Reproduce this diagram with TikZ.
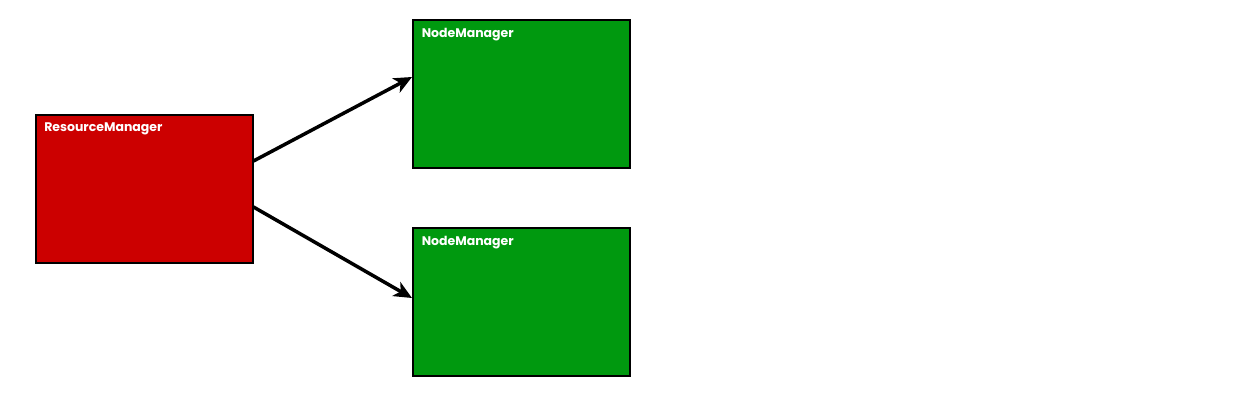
\documentclass[tikz,border=0pt]{standalone}
\usepackage{fontspec}
\setmainfont{Poppins}
\usetikzlibrary{arrows.meta}
\definecolor{rmred}{rgb}{0.8,0,0}
\definecolor{nmgreen}{rgb}{0,0.6,0.06}

\begin{document}
\begin{tikzpicture}[
            x = 1pt, y = -1pt,
            > = {Stealth[length=18pt, width=16pt, inset=5pt]}, % arrow head style
            line width = 3.5pt % arrow line style
        ]

        \tikzstyle{box}=[
            draw = black,
            line width = 2pt,
            minimum width = 217pt,
            minimum height = 148pt
        ]
        \tikzstyle{title}=[
            anchor = north west,
            inner sep = 0pt,
            xshift = 8pt, yshift = -7pt,
            text = white,
            font = \fontsize{12.5}{14}\selectfont\bfseries
        ]

        \useasboundingbox (0,0) rectangle (1244,400);

	% master
        \node[box, fill = rmred] (RM) at (144,189) {};
        \node[title] (RMt) at (RM.north west) {ResourceManager};

	% workers
        \node[box, fill = nmgreen] (NM1) at (521.5,94) {};
        \node[title] (NM1t) at (NM1.north west) {NodeManager};

        \node[box, fill = nmgreen] (NM2) at (521.5,302) {};
        \node[title] (NM2t) at (NM2.north west) {NodeManager};

        \draw[->] ([yshift=28pt]RM.east) -- ([yshift=17pt]NM1.west);
        \draw[->] ([yshift=-18pt]RM.east) -- ([yshift=4pt]NM2.west);

  \end{tikzpicture}
\end{document}
